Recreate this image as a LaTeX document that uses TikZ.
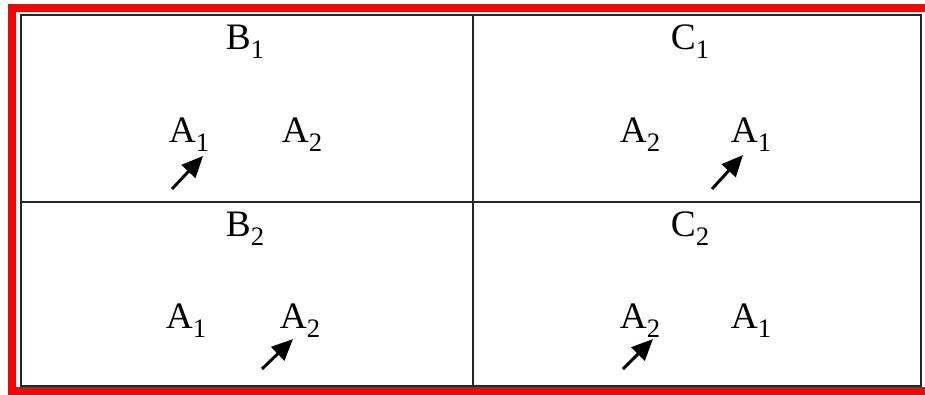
\documentclass[tikz,border=0pt]{standalone}
\usepackage{fontspec}
\setmainfont{Liberation Serif}
\usetikzlibrary{arrows.meta}
\newcommand{\idx}[1]{\raisebox{-0.26em}{\fontsize{20}{22}\selectfont #1}}
\begin{document}
\begin{tikzpicture}[x=0.75pt, y=-0.75pt,
    grid/.style={draw=black!85, line width=1.5pt},
    lbl/.style={anchor=base, inner sep=0pt, font=\fontsize{28}{30}\selectfont},
    pointer/.style={-{Triangle[length=16pt, width=14pt]}, line width=2.2pt}]
    \useasboundingbox (0,0) rectangle (925,394);
    % red frame (open on the right)
    \draw[red, line width=6pt] (925,8) -- (12,8) -- (12,391) -- (925,391);
    % table
    \coordinate (nw) at (21,15);
    \coordinate (se) at (921,386);
    \coordinate (midtop) at (473,15);
    \coordinate (midbot) at (473,386);
    \coordinate (midleft) at (21,202);
    \coordinate (midright) at (921,202);
    \draw[grid] (nw) rectangle (se);
    \draw[grid] (midtop) -- (midbot);
    \draw[grid] (midleft) -- (midright);
    % headings
    \node[lbl] (b1) at (245,49) {B\idx{1}};
    \node[lbl] (c1) at (690,49) {C\idx{1}};
    \node[lbl] (b2) at (245,236) {B\idx{2}};
    \node[lbl] (c2) at (690,236) {C\idx{2}};
    % upper row
    \node[lbl] (b1a1) at (189,142) {A\idx{1}};
    \node[lbl] (b1a2) at (302,142) {A\idx{2}};
    \node[lbl] (c1a2) at (640,142) {A\idx{2}};
    \node[lbl] (c1a1) at (751,142) {A\idx{1}};
    % lower row
    \node[lbl] (b2a1) at (186,328) {A\idx{1}};
    \node[lbl] (b2a2) at (300,328) {A\idx{2}};
    \node[lbl] (c2a2) at (640,328) {A\idx{2}};
    \node[lbl] (c2a1) at (751,328) {A\idx{1}};
    % arrows
    \coordinate (p1) at (172,189); \coordinate (q1) at (203,156);
    \coordinate (p2) at (712,189); \coordinate (q2) at (743,155);
    \coordinate (p3) at (262,369); \coordinate (q3) at (293,339);
    \coordinate (p4) at (623,369); \coordinate (q4) at (653,339);
    \draw[pointer] (p1) -- (q1);
    \draw[pointer] (p2) -- (q2);
    \draw[pointer] (p3) -- (q3);
    \draw[pointer] (p4) -- (q4);
\end{tikzpicture}
\end{document}
